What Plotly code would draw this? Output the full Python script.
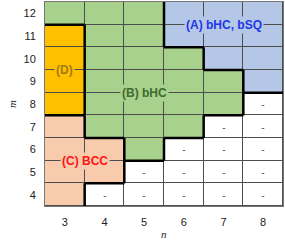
import plotly.graph_objects as go

# ---- data ----
n_values = [3, 4, 5, 6, 7, 8]
m_values = [4, 5, 6, 7, 8, 9, 10, 11, 12]
# region of each cell, rows from m=4 (bottom) to m=12 (top), columns n=3..8
regions = [
    ["C", "-", "-", "-", "-", "-"],   # m=4
    ["C", "C", "-", "-", "-", "-"],   # m=5
    ["C", "C", "B", "-", "-", "-"],   # m=6
    ["C", "B", "B", "B", "-", "-"],   # m=7
    ["D", "B", "B", "B", "B", "-"],   # m=8
    ["D", "B", "B", "B", "B", "A"],   # m=9
    ["D", "B", "B", "B", "A", "A"],   # m=10
    ["D", "B", "B", "A", "A", "A"],   # m=11
    ["B", "B", "B", "A", "A", "A"],   # m=12
]
region_labels = {"A": "(A) bHC, bSQ", "B": "(B) bHC", "C": "(C) BCC", "D": "(D)"}
label_pos = {"A": (7, 11.5), "B": (5, 8.5), "C": (3.5, 5.5), "D": (3, 9.5)}

# ---- styles ----
region_order = ["-", "A", "B", "C", "D"]
region_fill = {"-": "#ffffff", "A": "#b4c7e7", "B": "#a9d18e", "C": "#f8cbad", "D": "#ffc000"}
label_color = {"A": "#1f36e8", "B": "#3f6b2c", "C": "#ff1414", "D": "#a47c0c"}

code = {r: i for i, r in enumerate(region_order)}
z = [[code[r] for r in row] for row in regions]
text = [["-" if r == "-" else "" for r in row] for row in regions]
k = len(region_order)
colorscale = []
for i, r in enumerate(region_order):
    colorscale.append([i / k, region_fill[r]])
    colorscale.append([(i + 1) / k, region_fill[r]])

fig = go.Figure()
fig.add_trace(go.Heatmap(
    x=n_values, y=m_values, z=z, text=text, texttemplate="%{text}",
    textfont=dict(size=10, color="#555555", family="Liberation Sans, Arial"),
    colorscale=colorscale, zmin=-0.5, zmax=k - 0.5, showscale=False,
    xgap=1, ygap=1, hoverinfo="skip",
))

# thick region boundaries derived from the grid
bx, by = [], []
rows, cols = len(m_values), len(n_values)
for i in range(rows):
    for j in range(cols):
        if j + 1 < cols and regions[i][j] != regions[i][j + 1]:
            xb = (n_values[j] + n_values[j + 1]) / 2
            bx += [xb, xb, None]
            by += [m_values[i] - 0.5, m_values[i] + 0.5, None]
        if i + 1 < rows and regions[i][j] != regions[i + 1][j]:
            yb = (m_values[i] + m_values[i + 1]) / 2
            bx += [n_values[j] - 0.5, n_values[j] + 0.5, None]
            by += [yb, yb, None]
fig.add_trace(go.Scatter(x=bx, y=by, mode="lines", line=dict(color="black", width=2.5),
                         hoverinfo="skip", showlegend=False))

for r, txt in region_labels.items():
    x, y = label_pos[r]
    fig.add_annotation(x=x, y=y, text=f"<b>{txt}</b>", showarrow=False,
                       font=dict(size=12, color=label_color[r], family="Liberation Sans, Arial"),
                       bgcolor=region_fill[r], borderpad=1)

fig.add_annotation(xref="paper", yref="paper", x=0.5, y=-0.135, text="<i>n</i>", showarrow=False,
                   yanchor="middle", borderpad=0,
                   font=dict(size=11, color="#222", family="Liberation Serif, serif"))
fig.add_annotation(xref="paper", yref="paper", x=-0.139, y=0.5, text="<i>m</i>", showarrow=False,
                   textangle=-90, xanchor="center", borderpad=0,
                   font=dict(size=11, color="#222", family="Liberation Serif, serif"))

axis_common = dict(showgrid=False, zeroline=False, ticks="outside", ticklen=6,
                   tickcolor="rgba(0,0,0,0)", showline=True, linecolor="#777777",
                   linewidth=1, mirror=True,
                   tickfont=dict(size=11, color="#222", family="Liberation Sans, Arial"))
fig.update_xaxes(range=[2.5, 8.5], tickvals=n_values, **axis_common)
fig.update_yaxes(range=[3.5, 12.5], tickvals=m_values, **axis_common)

fig.update_layout(width=285, height=244, margin=dict(l=45, r=2, t=2, b=38),
                  plot_bgcolor="#4d4d4d", paper_bgcolor="white", showlegend=False)
fig.write_html("out.html", config={"displayModeBar": False},
               post_script="document.body.style.margin='0px';")
